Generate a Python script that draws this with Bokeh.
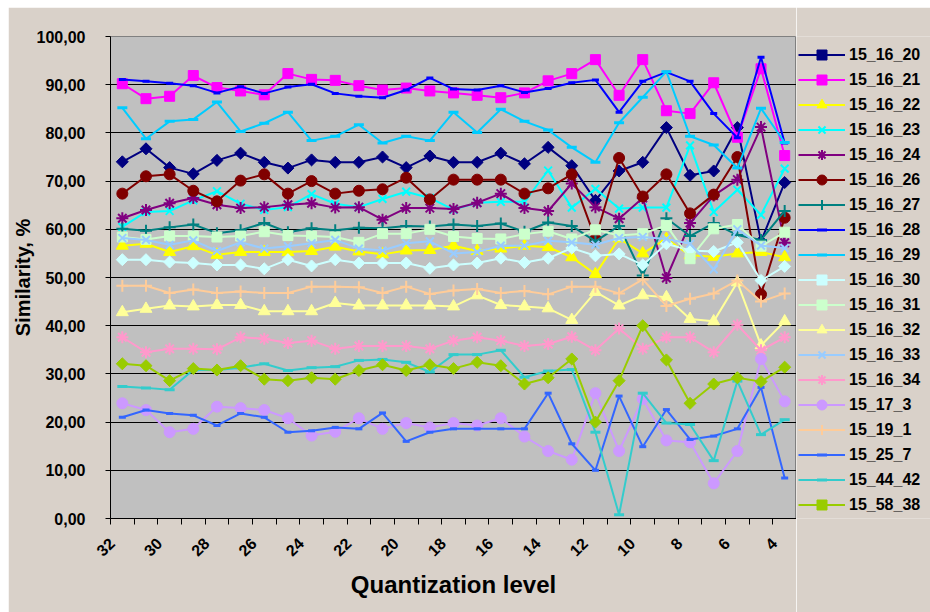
import math
from bokeh.plotting import figure
from bokeh.layouts import row
from bokeh.models import Range1d, FixedTicker, Legend, LegendItem
from bokeh.embed import file_html
from bokeh.resources import INLINE

# ---------------- data ----------------
levels = list(range(32, 3, -1))          # quantization levels 32 .. 4
x_ticks = list(range(32, 3, -2))         # labelled levels
y_ticks = [0, 10, 20, 30, 40, 50, 60, 70, 80, 90, 100]
y_tick_labels = ["0,00", "10,00", "20,00", "30,00", "40,00", "50,00",
                 "60,00", "70,00", "80,00", "90,00", "100,00"]

names = ["15_16_20", "15_16_21", "15_16_22", "15_16_23", "15_16_24",
         "15_16_26", "15_16_27", "15_16_28", "15_16_29", "15_16_30",
         "15_16_31", "15_16_32", "15_16_33", "15_16_34", "15_17_3",
         "15_19_1", "15_25_7", "15_44_42", "15_58_38"]

s_15_16_20 = [74.0, 76.7, 72.8, 71.5, 74.3, 75.8, 73.9, 72.7, 74.4, 73.9, 73.9, 75.0, 72.8, 75.2, 73.9,
              73.9, 75.8, 73.6, 77.0, 73.2, 66.0, 72.1, 73.9, 81.1, 71.2, 72.1, 81.1, 57.5, 69.7]
s_15_16_21 = [90.2, 87.1, 87.6, 91.9, 89.4, 88.7, 87.9, 92.3, 91.1, 90.9, 89.8, 88.9, 89.3, 88.7, 88.3,
              87.8, 87.3, 88.3, 90.8, 92.3, 95.2, 87.8, 95.2, 84.6, 84.0, 90.4, 79.1, 93.3, 75.3]
s_15_16_22 = [56.6, 57.0, 55.3, 56.5, 54.7, 55.3, 55.3, 55.3, 55.5, 56.4, 55.4, 54.8, 55.6, 55.7, 56.6,
              55.5, 56.0, 56.6, 56.3, 54.2, 50.7, 58.1, 55.0, 58.0, 54.6, 54.3, 55.0, 55.3, 54.2]
s_15_16_23 = [60.5, 63.6, 63.8, 66.0, 67.9, 65.3, 64.0, 64.6, 67.3, 65.3, 64.6, 66.3, 67.8, 66.5, 64.1,
              65.5, 65.7, 65.7, 72.2, 64.5, 68.4, 64.3, 64.5, 64.5, 77.4, 63.6, 68.2, 63.0, 72.6]
s_15_16_24 = [62.3, 64.0, 65.4, 66.5, 65.1, 64.4, 64.6, 65.1, 65.4, 64.5, 64.6, 62.0, 64.4, 64.4, 64.2,
              65.5, 67.4, 64.4, 63.8, 69.5, 64.6, 62.2, 66.5, 49.9, 61.3, 67.0, 70.3, 81.2, 57.2]
s_15_16_26 = [67.4, 71.0, 71.4, 68.0, 65.8, 70.1, 71.4, 67.4, 70.0, 67.4, 68.0, 68.3, 70.7, 66.2, 70.3,
              70.3, 70.3, 67.4, 68.5, 71.4, 58.0, 74.8, 66.8, 71.4, 63.3, 67.2, 75.0, 46.5, 62.4]
s_15_16_27 = [60.1, 59.7, 60.4, 61.0, 59.2, 59.8, 61.3, 59.4, 60.2, 59.8, 60.3, 60.2, 60.7, 60.6, 61.0,
              60.7, 61.2, 59.5, 61.4, 60.7, 57.5, 60.7, 50.4, 62.3, 58.6, 61.3, 58.8, 57.8, 63.8]
s_15_16_28 = [91.1, 90.7, 90.3, 89.8, 88.3, 89.6, 88.2, 89.5, 90.1, 88.2, 87.6, 87.3, 88.9, 91.4, 89.1,
              88.9, 89.8, 88.4, 89.2, 90.4, 91.0, 84.3, 90.7, 92.6, 90.7, 84.0, 79.0, 95.7, 77.9]
s_15_16_29 = [85.2, 78.8, 82.4, 82.8, 86.4, 80.3, 82.0, 84.3, 78.4, 79.3, 81.7, 77.9, 79.3, 78.4, 84.3,
              80.1, 84.9, 82.4, 80.6, 77.0, 73.9, 82.1, 87.4, 92.7, 79.3, 77.5, 72.7, 85.1, 78.0]
s_15_16_30 = [53.7, 53.7, 53.2, 53.0, 52.6, 52.6, 51.8, 53.7, 52.4, 53.7, 53.0, 53.0, 53.0, 51.9, 52.6,
              53.0, 54.0, 53.1, 54.0, 56.1, 54.5, 54.9, 52.6, 57.0, 55.6, 55.4, 57.3, 49.4, 52.3]
s_15_16_31 = [58.4, 57.9, 58.6, 58.6, 58.4, 58.6, 59.5, 58.7, 58.6, 58.4, 57.3, 59.1, 59.1, 60.0, 58.5,
              58.1, 58.0, 59.0, 59.6, 58.0, 59.9, 58.7, 59.1, 60.8, 53.9, 60.1, 61.0, 56.5, 59.4]
s_15_16_32 = [42.8, 43.5, 44.2, 44.0, 44.3, 44.3, 43.0, 43.0, 43.0, 44.7, 44.2, 44.2, 44.2, 44.2, 44.0,
              46.3, 44.3, 44.0, 43.6, 41.2, 47.0, 44.2, 46.3, 45.9, 41.4, 40.9, 49.0, 35.9, 40.9]
s_15_16_33 = [58.2, 57.8, 56.8, 57.7, 55.5, 57.3, 56.0, 56.5, 57.1, 57.8, 56.0, 55.6, 57.1, 57.5, 55.0,
              55.3, 56.6, 56.6, 57.6, 57.3, 56.8, 58.2, 58.4, 58.0, 57.0, 51.7, 60.0, 56.6, 56.1]
s_15_16_34 = [37.6, 34.5, 35.2, 35.2, 35.1, 37.6, 37.3, 36.4, 36.9, 35.2, 35.8, 35.8, 35.8, 35.2, 36.9,
              37.6, 36.9, 35.8, 36.2, 37.7, 34.9, 39.4, 35.2, 37.6, 37.6, 34.5, 40.2, 34.9, 37.6]
s_15_17_3 = [23.9, 22.5, 17.9, 18.6, 23.2, 22.9, 22.5, 20.8, 17.2, 18.0, 20.8, 18.6, 19.8, 18.9, 19.8,
             19.3, 20.8, 17.0, 14.0, 12.2, 26.0, 14.0, 24.8, 16.2, 15.8, 7.3, 14.0, 33.1, 24.3]
s_15_19_1 = [48.3, 48.3, 46.8, 47.5, 46.8, 47.1, 46.8, 46.8, 48.1, 48.1, 48.0, 46.8, 48.1, 46.6, 47.3,
             47.6, 46.8, 47.2, 46.5, 48.1, 48.1, 46.7, 49.6, 44.1, 45.6, 46.7, 49.4, 45.0, 46.7]
s_15_25_7 = [21.0, 22.5, 21.8, 21.4, 19.3, 21.8, 21.0, 17.9, 18.2, 18.9, 18.6, 21.9, 16.0, 17.9, 18.6,
             18.6, 18.6, 18.6, 26.0, 15.5, 10.0, 25.4, 14.9, 22.6, 16.4, 17.1, 18.6, 27.2, 8.4]
s_15_44_42 = [27.4, 27.1, 26.7, 30.8, 30.8, 31.3, 32.1, 30.7, 31.3, 31.5, 32.8, 33.0, 32.4, 30.4, 34.0,
              34.0, 34.9, 29.3, 30.6, 30.9, 17.9, 0.8, 26.0, 19.8, 19.5, 12.0, 28.5, 17.4, 20.5]
s_15_58_38 = [32.1, 31.7, 28.6, 31.1, 30.8, 31.7, 28.9, 28.6, 29.2, 28.9, 30.7, 31.9, 30.7, 31.9, 31.1,
              32.4, 31.7, 27.9, 29.2, 33.1, 20.0, 28.6, 40.0, 32.9, 23.9, 27.9, 29.2, 28.4, 31.4]

series = [s_15_16_20, s_15_16_21, s_15_16_22, s_15_16_23, s_15_16_24, s_15_16_26, s_15_16_27,
          s_15_16_28, s_15_16_29, s_15_16_30, s_15_16_31, s_15_16_32, s_15_16_33, s_15_16_34,
          s_15_17_3, s_15_19_1, s_15_25_7, s_15_44_42, s_15_58_38]

# ---------------- styles ----------------
colors = ["#000080", "#FF00FF", "#FFFF00", "#00FFFF", "#800080", "#800000", "#008080",
          "#0000FF", "#00CCFF", "#CCFFFF", "#CCFFCC", "#FFFF99", "#99CCFF", "#FF99CC",
          "#CC99FF", "#FFCC99", "#3366FF", "#33CCCC", "#99CC00"]
# (marker, size, angle, filled)
markers = [("square", 8.5, math.pi / 4, True), ("square", 10, 0, True), ("triangle", 12, 0, True),
           ("x", 11, 0, False), ("asterisk", 12, 0, False), ("circle", 11, 0, True),
           ("cross", 12, 0, False), ("dash", 7, 0, False), ("dash", 10, 0, False),
           ("square", 8.5, math.pi / 4, True), ("square", 10, 0, True), ("triangle", 12, 0, True),
           ("x", 11, 0, False), ("asterisk", 12, 0, False), ("circle", 11, 0, True),
           ("cross", 12, 0, False), ("dash", 7, 0, False), ("dash", 10, 0, False),
           ("square", 8.5, math.pi / 4, True)]

FONT = "Liberation Sans"
BG = "#D9D1C9"
LABEL_SHIFT = 0.45   # Excel draws the rotated category labels left of the category centre


def draw_series(fig):
    out = []
    for name, vals, col, (mk, sz, ang, filled) in zip(names, series, colors, markers):
        lr = fig.line(levels, vals, line_color=col, line_width=2)
        if filled:
            sr = fig.scatter(levels, vals, marker=mk, size=sz, angle=ang,
                             fill_color=col, line_color=col, line_width=1)
        else:
            lw = 3 if mk == "dash" else 2
            sr = fig.scatter(levels, vals, marker=mk, size=sz, angle=ang,
                             line_color=col, line_width=lw)
        out.append((name, lr, sr))
    return out


# ---------------- main chart ----------------
p = figure(width=788, height=605,
           x_range=Range1d(32.5, 3.5), y_range=Range1d(0, 100),
           output_backend="svg", toolbar_location=None,
           min_border_left=96, min_border_right=0, min_border_top=29, min_border_bottom=94,
           background_fill_color="#C0C0C0", border_fill_color=BG,
           outline_line_color="#808080", outline_line_width=1)

draw_series(p)

p.xgrid.visible = False
p.ygrid.ticker = FixedTicker(ticks=y_ticks)
p.ygrid.grid_line_color = "black"
p.ygrid.grid_line_width = 1

p.yaxis.ticker = FixedTicker(ticks=y_ticks)
p.yaxis.major_label_overrides = dict(zip(y_ticks, y_tick_labels))
p.yaxis.axis_label = "Similarity, %"
p.yaxis.major_tick_out = 5
p.yaxis.major_tick_in = 0
p.yaxis.minor_tick_out = 0
p.yaxis.minor_tick_in = 0
p.yaxis.major_label_standoff = 20
p.yaxis.axis_label_standoff = 0

label_pos = [q + LABEL_SHIFT for q in x_ticks]
p.xaxis.ticker = FixedTicker(ticks=label_pos,
                             minor_ticks=[l + 0.5 for l in levels] + [levels[-1] - 0.5])
p.xaxis.major_label_overrides = {pos: str(q) for pos, q in zip(label_pos, x_ticks)}
p.xaxis.axis_label = "Quantization level"
p.xaxis.major_label_orientation = math.pi / 4
p.xaxis.major_tick_out = 0
p.xaxis.major_tick_in = 0
p.xaxis.minor_tick_out = 6
p.xaxis.minor_tick_in = 0
p.xaxis.major_label_standoff = 16
p.xaxis.axis_label_standoff = 6

for ax in (p.xaxis, p.yaxis):
    ax.axis_line_color = "black"
    ax.axis_line_width = 1
    ax.major_tick_line_color = "black"
    ax.minor_tick_line_color = "black"
    ax.major_label_text_font = FONT
    ax.major_label_text_font_style = "bold"
    ax.major_label_text_font_size = "16px"
    ax.major_label_text_color = "black"
    ax.axis_label_text_font = FONT
    ax.axis_label_text_font_style = "bold"
    ax.axis_label_text_color = "black"
p.yaxis.axis_label_text_font_size = "20px"
p.xaxis.axis_label_text_font_size = "24px"

# ---------------- legend panel (series drawn off-range, only the legend shows) ----------------
lg = figure(width=134, height=605, x_range=Range1d(100, 101), y_range=Range1d(200, 201),
            output_backend="svg", toolbar_location=None, title_location=None,
            x_axis_type=None, y_axis_type=None,
            min_border_left=0, min_border_right=0, min_border_top=0, min_border_bottom=0,
            background_fill_color=BG, border_fill_color=BG, outline_line_color=None)
lg.grid.visible = False
proxies = draw_series(lg)
legend = Legend(items=[LegendItem(label=n, renderers=[lr, sr]) for n, lr, sr in proxies],
                location=(2, 1), padding=2, margin=0,
                glyph_width=47, glyph_height=25, label_height=25, spacing=0,
                label_standoff=4, border_line_color=None, background_fill_alpha=0,
                label_text_font=FONT, label_text_font_style="bold",
                label_text_font_size="16px", label_text_color="black")
lg.add_layout(legend)

layout = row(p, lg, spacing=0)
layout.margin = (7, 0, 0, 8)

open("out.html", "w").write(file_html(layout, INLINE))
